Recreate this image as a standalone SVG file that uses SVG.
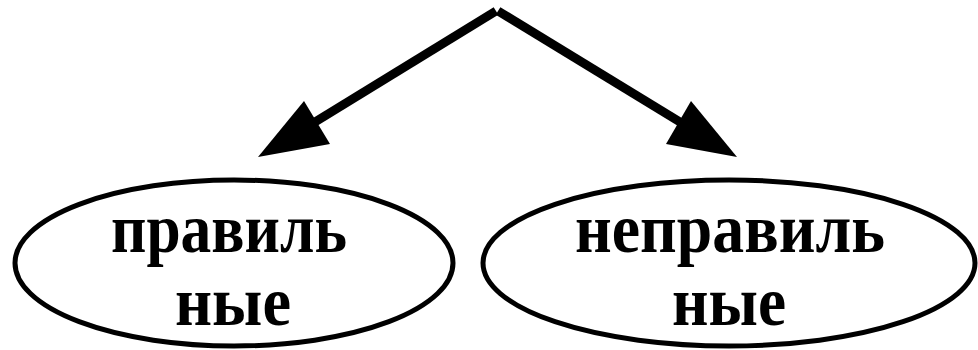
<svg xmlns="http://www.w3.org/2000/svg" width="978" height="350" viewBox="0 0 978 350">
<style>
.node ellipse{fill:#fff;stroke:#000;stroke-width:5}
.node text{font-family:"Liberation Serif","Times New Roman",serif;font-weight:bold;font-size:70px;fill:#000;text-anchor:middle}
.conn line{stroke:#000;stroke-width:9}
.conn polygon{fill:#000}
</style>
<g id="connectors" class="conn">
<line x1="496" y1="11" x2="315" y2="122"/>
<polygon points="258,157 304,101 330,144"/>
<line x1="498" y1="11" x2="680" y2="122"/>
<polygon points="737,157 691,101 666,144"/>
</g>
<g id="node-left" class="node">
<ellipse cx="234" cy="263" rx="219" ry="83"/>
<text x="229" y="252" textLength="236" lengthAdjust="spacingAndGlyphs">правиль</text>
<text x="233" y="325" textLength="116" lengthAdjust="spacingAndGlyphs">ные</text>
</g>
<g id="node-right" class="node">
<ellipse cx="729" cy="263" rx="246" ry="83"/>
<text x="730" y="252" textLength="310" lengthAdjust="spacingAndGlyphs">неправиль</text>
<text x="729" y="325" textLength="114" lengthAdjust="spacingAndGlyphs">ные</text>
</g>
</svg>
